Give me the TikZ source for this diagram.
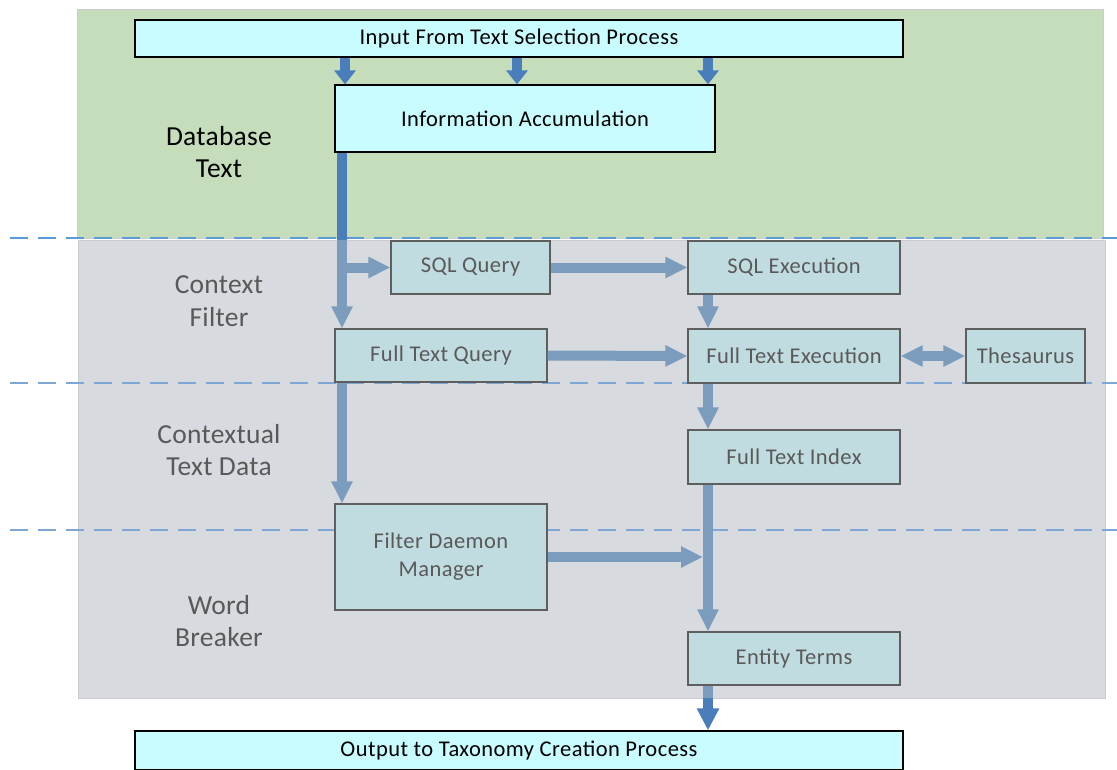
\documentclass[tikz,border=0pt]{standalone}
\usepackage{fontspec}
\setmainfont{Carlito}
\newfontfamily\boxfont[LetterSpace=2]{Carlito}
\newfontfamily\lanefont[LetterSpace=1]{Carlito}
\usetikzlibrary{arrows.meta}

\definecolor{zoneGreen}{HTML}{C5DDBB}
\definecolor{zoneGray}{HTML}{D7DADF}
\definecolor{zoneEdge}{HTML}{C9CBCE}
\definecolor{ioFill}{HTML}{C9FCFF}
\definecolor{stepFill}{HTML}{C1DCE0}
\definecolor{stepEdge}{HTML}{5E5E5E}
\definecolor{txtGray}{HTML}{595959}
\definecolor{flowDark}{HTML}{4A7EBB}
\definecolor{flowLight}{HTML}{7B9CBC}
\definecolor{sepBlue}{HTML}{5B9BD5}
\definecolor{sepLight}{HTML}{7FA7D6}

\tikzset{
  x=1pt, y=-1pt,
  iobox/.style={draw=black, line width=1.3pt, fill=ioFill, inner sep=0pt,
    font=\boxfont\fontsize{22.5}{26}\selectfont, text=black},
  stepbox/.style={draw=stepEdge, line width=1.3pt, fill=stepFill, inner sep=0pt,
    font=\boxfont\fontsize{22.5}{28}\selectfont, text=txtGray, align=center},
  zonelabel/.style={font=\lanefont\fontsize{27.5}{32.5}\selectfont, text=txtGray, align=center},
  separator/.style={dash pattern=on 18pt off 10pt, line width=2pt},
  darkflow/.style={draw=flowDark, line width=10pt,
    -{Triangle[width=21pt,length=14pt]}},
  lightflow/.style={draw=flowLight, line width=10pt,
    -{Triangle[width=20pt,length=22pt]}},
  lightboth/.style={draw=flowLight, line width=10pt,
    {Triangle[width=20pt,length=22pt]}-{Triangle[width=20pt,length=22pt]}},
}

\begin{document}
\begin{tikzpicture}
\useasboundingbox (0,0) rectangle (1117,769);

% swim-lane backgrounds
\fill[zoneGreen, draw=zoneEdge, line width=1pt] (77,9) rectangle (1103,238);
\fill[zoneGray, draw=zoneEdge, line width=1pt] (78,240) rectangle (1105,698);

% lane separators
\draw[separator, draw=sepBlue] (10,238) -- (1117,238);
\draw[separator, draw=sepLight] (10,383) -- (1117,383);
\draw[separator, draw=sepLight] (10,530) -- (1117,530);

% lane labels
\node[zonelabel, text=black] (lDb)  at (219,152) {Database\\Text};
\node[zonelabel] (lCf)  at (219,301) {Context\\Filter};
\node[zonelabel] (lCtd) at (219,450) {Contextual\\Text Data};
\node[zonelabel] (lWb)  at (219,621) {Word\\Breaker};

% process boxes
\node[iobox, minimum width=768pt, minimum height=37pt] (input) at (519,38.5) {Input From Text Selection Process};
\node[iobox, minimum width=380pt, minimum height=67pt] (info) at (525,118.5) {Information Accumulation};
\node[stepbox, minimum width=159pt, minimum height=53pt] (sqlq) at (470.5,267.5) {SQL Query};
\node[stepbox, minimum width=212pt, minimum height=53pt] (sqle) at (794,267.5) {SQL Execution};
\node[stepbox, minimum width=212pt, minimum height=53pt] (ftq) at (441,355.5) {Full Text Query};
\node[stepbox, minimum width=212pt, minimum height=54pt] (fte) at (794,356) {Full Text Execution};
\node[stepbox, minimum width=119pt, minimum height=54pt] (thes) at (1025.5,356) {Thesaurus};
\node[stepbox, minimum width=212pt, minimum height=54pt] (fti) at (794,457) {Full Text Index};
\node[stepbox, minimum width=212pt, minimum height=106pt] (fdm) at (441,557) {Filter Daemon\\Manager};
\node[stepbox, minimum width=212pt, minimum height=53pt] (ent) at (794,658.5) {Entity Terms};
\node[iobox, minimum width=768pt, minimum height=39pt] (out) at (519,750.5) {Output to Taxonomy Creation Process};

% flow columns and lane boundaries
\coordinate (c1) at (345,0);
\coordinate (c2) at (517,0);
\coordinate (c3) at (708,0);
\coordinate (xa) at (342,0);
\coordinate (xb) at (708,0);
\coordinate (laneTop) at (0,240);
\coordinate (laneBot) at (0,698);
\coordinate (merge) at (703,557);

% input fans into accumulation
\draw[darkflow] (c1 |- input.south) -- (c1 |- info.north);
\draw[darkflow] (c2 |- input.south) -- (c2 |- info.north);
\draw[darkflow] (c3 |- input.south) -- (c3 |- info.north);

% accumulation down to the query stage
\draw[draw=flowDark, line width=10pt] (xa |- info.south) -- (xa |- laneTop);
\draw[lightflow] (xa |- laneTop) -- (xa |- ftq.north);
\draw[lightflow] (xa |- sqlq.west) -- (sqlq.west);

% query / execution flow
\draw[lightflow] (sqlq.east) -- (sqle.west);
\draw[lightflow] (xb |- sqle.south) -- (xb |- fte.north);
\draw[lightflow] (ftq.east) -- (fte.west);
\draw[lightboth] (fte.east) -- (thes.west);
\draw[lightflow] (xb |- fte.south) -- (xb |- fti.north);
\draw[lightflow] (xa |- ftq.south) -- (xa |- fdm.north);
\draw[lightflow] (xb |- fti.south) -- (xb |- ent.north);
\draw[lightflow] (fdm.east) -- (merge);

% entity terms out to taxonomy
\draw[draw=flowLight, line width=10pt] (xb |- ent.south) -- (xb |- laneBot);
\draw[darkflow, -{Triangle[width=21pt,length=22pt]}] (xb |- laneBot) -- (xb |- out.north);
\end{tikzpicture}
\end{document}
